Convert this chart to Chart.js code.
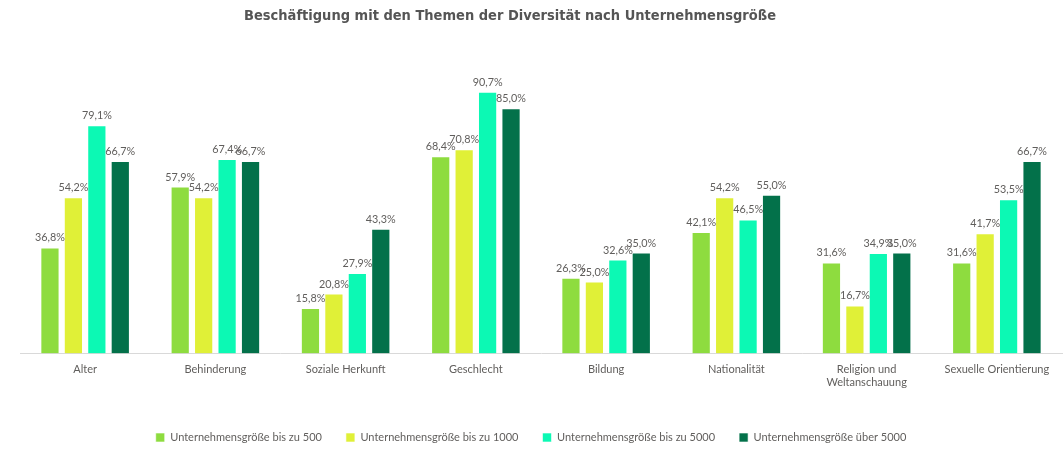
<!DOCTYPE html>
<html>
<head>
<meta charset="utf-8">
<script src="https://cdn.jsdelivr.net/npm/chart.js@4"></script>
<style>
  html, body { margin: 0; padding: 0; background: #fff; }
  #wrap { width: 1063px; height: 453px; position: relative; }
</style>
</head>
<body>
<div id="wrap"><canvas id="chart"></canvas></div>
<script>
const chartTitle = 'Beschäftigung mit den Themen der Diversität nach Unternehmensgröße';

const categories = ['Alter', 'Behinderung', 'Soziale Herkunft', 'Geschlecht', 'Bildung',
  'Nationalität', ['Religion und', 'Weltanschauung'], 'Sexuelle Orientierung'];

const seriesNames = ['Unternehmensgröße bis zu 500', 'Unternehmensgröße bis zu 1000',
  'Unternehmensgröße bis zu 5000', 'Unternehmensgröße über 5000'];

const bis500 = [36.8, 57.9, 15.8, 68.4, 26.3, 42.1, 31.6, 31.6];
const bis1000 = [54.2, 54.2, 20.8, 70.8, 25.0, 54.2, 16.7, 41.7];
const bis5000 = [79.1, 67.4, 27.9, 90.7, 32.6, 46.5, 34.9, 53.5];
const ueber5000 = [66.7, 66.7, 43.3, 85.0, 35.0, 55.0, 35.0, 66.7];

const colors = ['#8edc3f', '#e0f037', '#0cf9b4', '#03714a'];
const font = 'Lato, "Open Sans", sans-serif';

// draws the value above each bar, and the title (slightly left of centre like the original)
const valueLabels = {
  id: 'valueLabels',
  afterDatasetsDraw(chart) {
    const ctx = chart.ctx;
    ctx.save();
    ctx.font = '10.8px ' + font;
    ctx.fillStyle = '#605e5c';
    ctx.textAlign = 'center';
    ctx.textBaseline = 'bottom';
    chart.data.datasets.forEach((ds, i) => {
      chart.getDatasetMeta(i).data.forEach((bar, j) => {
        let txt = ds.data[j].toFixed(1).replace('.', ',') + '%';
        ctx.fillText(txt, bar.x, bar.y - 4);
      });
    });
    ctx.font = 'bold 14.5px "DejaVu Sans Condensed", "DejaVu Sans", sans-serif';
    ctx.fillStyle = '#555555';
    ctx.textBaseline = 'middle';
    ctx.fillText(chartTitle, 510, 16);
    ctx.restore();
  }
};

const data = {
  labels: categories,
  datasets: [bis500, bis1000, bis5000, ueber5000].map((vals, i) => ({
    label: seriesNames[i],
    data: vals,
    backgroundColor: colors[i],
    borderColor: 'rgba(255,255,255,0.6)',
    borderWidth: 1,
    categoryPercentage: 0.72,
    barPercentage: 0.82
  }))
};

const config = {
  type: 'bar',
  data: data,
  options: {
    responsive: true,
    maintainAspectRatio: false,
    animation: false,
    layout: { padding: { left: 0, right: 1, top: 65, bottom: 0 } },
    scales: {
      x: {
        grid: { display: false },
        border: { color: '#d9d9d9', width: 1 },
        ticks: { color: '#605e5c', font: { family: font, size: 11 }, padding: 1, maxRotation: 0, autoSkip: false },
        afterFit: (scale) => { scale.height += 18; }
      },
      y: {
        min: 0,
        max: 100,
        grid: { display: false },
        border: { display: false },
        ticks: { display: false },
        afterFit: (scale) => { scale.width = 20; }
      }
    },
    plugins: {
      title: { display: false },
      legend: {
        position: 'bottom',
        labels: {
          color: '#605e5c',
          font: { family: font, size: 11 },
          boxWidth: 9,
          boxHeight: 9,
          padding: 24
        }
      },
      tooltip: { enabled: false }
    }
  },
  plugins: [valueLabels]
};

new Chart(document.getElementById('chart'), config);
</script>
</body>
</html>
